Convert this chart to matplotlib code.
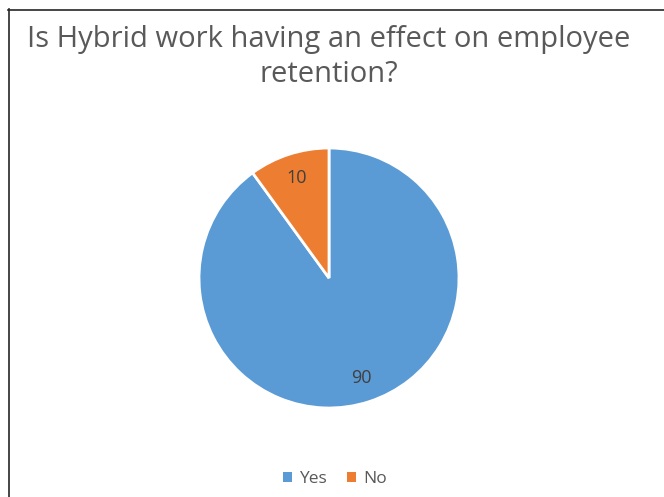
import matplotlib.pyplot as plt
from matplotlib.lines import Line2D
from matplotlib.patches import Patch

labels = ["Yes", "No"]
values = [90, 10]
colors = ["#5B9BD5", "#ED7D31"]
title = "Is Hybrid work having an effect on employee\nretention?"

W, H = 664, 497
fig = plt.figure(figsize=(W / 100, H / 100), dpi=100)
plt.rcParams["font.family"] = ["Open Sans", "DejaVu Sans"]

# chart frame (only left and top edges visible in the crop)
fig.add_artist(Line2D([8.5 / W, 8.5 / W], [0, 1 - 9 / H], color="#262626", lw=1.2, transform=fig.transFigure))
fig.add_artist(Line2D([8 / W, 1], [1 - 9.5 / H, 1 - 9.5 / H], color="#262626", lw=1.2, transform=fig.transFigure))

fig.text(329 / W, 1 - 57 / H, title, ha="center", va="center", fontsize=21,
         color="#595959", linespacing=1.3)

cx, cy, r = 329, 278, 130
ax = fig.add_axes([(cx - r) / W, 1 - (cy + r) / H, 2 * r / W, 2 * r / H])
total = sum(values)
wedges, _, autotexts = ax.pie(
    values,
    colors=colors,
    startangle=90,
    counterclock=False,
    autopct=lambda p: f"{p * total / 100:.0f}",
    pctdistance=0.81,
    wedgeprops={"edgecolor": "white", "linewidth": 2},
    textprops={"fontsize": 13, "color": "#404040"},
)
ax.set_aspect("equal")
ax.set_xlim(-1, 1)
ax.set_ylim(-1, 1)

handles = [Patch(facecolor=c, edgecolor="none") for c in colors]
fig.legend(handles, labels, loc="center", bbox_to_anchor=(335 / W, 1 - 479 / H), ncol=2,
           frameon=False, fontsize=12.5, labelcolor="#595959", handlelength=0.5, handleheight=0.5,
           handletextpad=0.4, columnspacing=1.2)

fig.savefig("out.png", dpi=100)
